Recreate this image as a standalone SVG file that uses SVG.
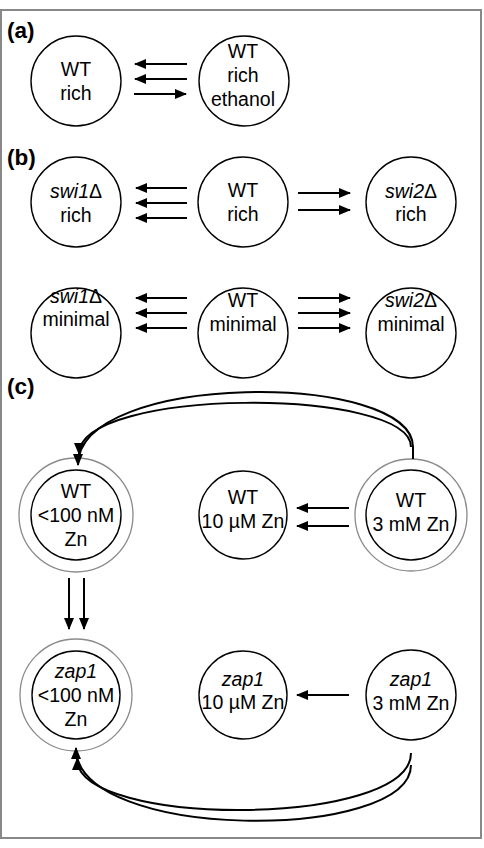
<svg xmlns="http://www.w3.org/2000/svg" width="484" height="848" viewBox="0 0 484 848">
<style>
.n{fill:#fff;stroke:#000;stroke-width:1.4}
.g{fill:none;stroke:#8a8a8a;stroke-width:1.3}
.t{font-family:"Liberation Sans",Arial,sans-serif;font-size:19.5px;text-anchor:middle;fill:#000}
.i{font-style:italic}
.u{font-style:normal}
.lab{font-family:"Liberation Sans",Arial,sans-serif;font-size:22.5px;font-weight:bold;fill:#000}
.c{fill:none;stroke:#000;stroke-width:2;marker-end:url(#ah)}
</style>
<defs>
<marker id="ah" viewBox="0 0 12 10" markerWidth="12" markerHeight="10" markerUnits="userSpaceOnUse" refX="11" refY="5" orient="auto">
<path d="M0,0 L12,5 L0,10 z" fill="#000"/>
</marker>
</defs>
<rect x="1" y="10" width="480" height="828" fill="#fff" stroke="#888" stroke-width="2"/>
<text class="lab" x="7" y="38">(a)</text>
<text class="lab" x="7" y="165">(b)</text>
<text class="lab" x="7" y="394">(c)</text>

<g id="a_wt_rich"><circle class="n" cx="76" cy="81" r="45"/><text class="t" x="76" y="76">WT</text><text class="t" x="76" y="100">rich</text></g>
<g id="a_wt_eth"><circle class="n" cx="244" cy="81" r="45"/><text class="t" x="243" y="58">WT</text><text class="t" x="243" y="82">rich</text><text class="t" x="243" y="106">ethanol</text></g>

<g id="b_swi1_rich"><circle class="n" cx="76" cy="202" r="45"/><text class="t" x="76" y="198"><tspan class="i">swi1</tspan><tspan class="u">Δ</tspan></text><text class="t" x="76" y="222">rich</text></g>
<g id="b_wt_rich"><circle class="n" cx="243" cy="202" r="45"/><text class="t" x="243" y="197">WT</text><text class="t" x="243" y="221">rich</text></g>
<g id="b_swi2_rich"><circle class="n" cx="411" cy="202" r="45"/><text class="t" x="411" y="198"><tspan class="i">swi2</tspan><tspan class="u">Δ</tspan></text><text class="t" x="411" y="221">rich</text></g>
<g id="b_swi1_min"><circle class="n" cx="76" cy="333" r="45"/><text class="t" x="76" y="303"><tspan class="i">swi1</tspan><tspan class="u">Δ</tspan></text><text class="t" x="76" y="326">minimal</text></g>
<g id="b_wt_min"><circle class="n" cx="243" cy="333" r="45"/><text class="t" x="243" y="307">WT</text><text class="t" x="243" y="331">minimal</text></g>
<g id="b_swi2_min"><circle class="n" cx="411" cy="333" r="45"/><text class="t" x="411" y="307"><tspan class="i">swi2</tspan><tspan class="u">Δ</tspan></text><text class="t" x="411" y="331">minimal</text></g>

<g id="c_wt_low"><circle class="g" cx="76" cy="515" r="57"/><circle class="n" cx="76" cy="515" r="45"/><text class="t" x="76" y="498">WT</text><text class="t" x="76" y="522">&lt;100 nM</text><text class="t" x="76" y="546">Zn</text></g>
<g id="c_wt_10"><circle class="n" cx="243" cy="515" r="44"/><text class="t" x="243" y="504">WT</text><text class="t" x="243" y="528">10 µM Zn</text></g>
<g id="c_wt_3"><circle class="g" cx="411" cy="515" r="56"/><circle class="n" cx="411" cy="515" r="45"/><text class="t" x="411" y="507">WT</text><text class="t" x="411" y="531">3 mM Zn</text></g>
<g id="c_zap_low"><circle class="g" cx="76" cy="695" r="56"/><circle class="n" cx="76" cy="695" r="44"/><text class="t i" x="76" y="678">zap1</text><text class="t" x="76" y="702">&lt;100 nM</text><text class="t" x="76" y="726">Zn</text></g>
<g id="c_zap_10"><circle class="n" cx="243" cy="695" r="44"/><text class="t i" x="243" y="686">zap1</text><text class="t" x="243" y="709">10 µM Zn</text></g>
<g id="c_zap_3"><circle class="n" cx="411" cy="695" r="45"/><text class="t i" x="411" y="686">zap1</text><text class="t" x="411" y="710">3 mM Zn</text></g>

<g id="connectors">
<path class="c" d="M187,64 H135"/>
<path class="c" d="M187,79 H135"/>
<path class="c" d="M134,94 H186"/>

<path class="c" d="M187,188 H136"/>
<path class="c" d="M187,203 H136"/>
<path class="c" d="M187,218 H136"/>
<path class="c" d="M298,193 H350"/>
<path class="c" d="M298,210 H350"/>

<path class="c" d="M187,298 H136"/>
<path class="c" d="M187,313 H136"/>
<path class="c" d="M187,328 H136"/>
<path class="c" d="M298,298 H350"/>
<path class="c" d="M298,313 H350"/>
<path class="c" d="M298,328 H350"/>

<path class="c" d="M349,508 H297"/>
<path class="c" d="M349,526 H297"/>
<path class="c" d="M349,695 H297"/>

<path class="c" d="M69,578 V629"/>
<path class="c" d="M84,578 V629"/>

<path class="c" d="M413,459 L413,447 C413,371 78,371 78,465"/>
<path class="c" d="M411,447 C411,387 79,387 79,454"/>
<path class="c" d="M411,753 C411,828 77,828 77,759"/>
<path class="c" d="M411,765 C411,842 76,842 76,748"/>
</g>
</svg>
